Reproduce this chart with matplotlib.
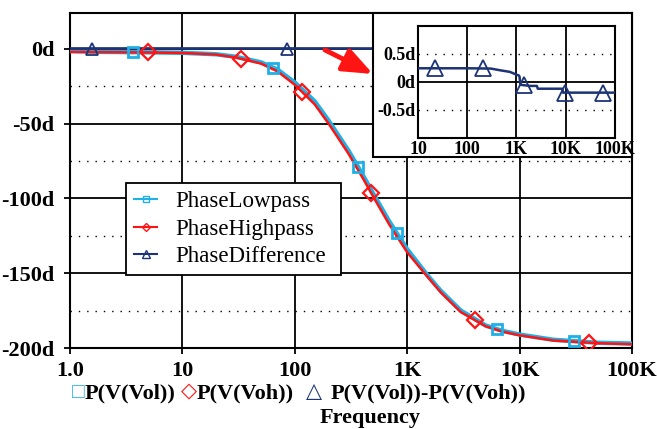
import numpy as np
import matplotlib.pyplot as plt
from matplotlib.patches import Rectangle, FancyArrowPatch
from matplotlib.lines import Line2D
from matplotlib.ticker import FixedLocator, NullLocator

plt.rcParams['font.family'] = ['Liberation Serif', 'DejaVu Sans']

# phase of both filter outputs (degrees)
freq = [1, 2, 5, 10, 20, 30, 50, 70, 100, 150, 200, 300, 400, 500, 700,
        1000, 1500, 2000, 3000, 5000, 7000, 10000, 20000, 50000, 100000]
phase_low = [-1.5, -2.0, -2.3, -2.6, -3.6, -5.3, -9.0, -13.8, -22.5, -35, -48, -68, -84, -97, -116,
             -134, -151, -162, -175, -185, -188.5, -191, -194.5, -196.5, -197]
phase_high = [-2.0, -2.2, -2.4, -2.7, -3.8, -5.8, -9.8, -15, -24, -37, -50, -70, -86, -99, -118,
              -136, -152, -163, -176, -185.5, -189, -191.5, -195, -196.8, -197.5]

# difference P(V(Vol))-P(V(Voh))
diff_freq = [1, 10, 100, 300, 460, 740, 1000, 1100, 1150, 1200, 1900, 2600, 2700, 8500, 8800, 100000]
phase_diff = [0.245, 0.245, 0.245, 0.24, 0.21, 0.18, 0.13, 0.12, 0.10, -0.05, -0.07, -0.07,
              -0.12, -0.12, -0.19, -0.19]

# marker positions
low_marks = [3.6, 64, 365, 811, 6300, 30500]
high_marks = [4.9, 33, 116, 476, 4010, 41400]
diff_marks = [1.57, 85, 3500, 40000]
inset_marks = [22, 209, 1400, 9500, 56000]

x_ticks = [1, 10, 100, 1000, 10000, 100000]
x_labels = ['1.0', '10', '100', '1K', '10K', '100K']
y_ticks = [0, -50, -100, -150, -200]
y_labels = ['0d', '-50d', '-100d', '-150d', '-200d']

cyan = '#1fb0e6'
red = '#ff1414'
navy = '#1c3476'


def at(f, xs, ys):
    return np.interp(np.log10(f), np.log10(xs), ys)


W, H = 657, 429
fig = plt.figure(figsize=(W / 100, H / 100), dpi=100)
ax = fig.add_axes([70 / W, 1 - 348 / H, 562 / W, 335 / H])

ax.semilogx(freq, phase_low, color=cyan, lw=3.2, zorder=3)
ax.semilogx(freq, phase_high, color=red, lw=1.8, zorder=4)
ax.semilogx(diff_freq, phase_diff, color=navy, lw=2, zorder=4)
ax.plot(low_marks, at(low_marks, freq, phase_low), 's', ms=7.5, mfc='none', mec=cyan, mew=2, zorder=5)
ax.plot(high_marks, at(high_marks, freq, phase_high), 'D', ms=8, mfc='none', mec=red, mew=1.6, zorder=5)
ax.plot(diff_marks, at(diff_marks, diff_freq, phase_diff), '^', ms=8, mfc='none', mec=navy, mew=1.3, zorder=5)

ax.set_xlim(1, 100000)
ax.set_ylim(-200, 24)
ax.set_xticks(x_ticks)
ax.set_xticklabels(x_labels)
ax.xaxis.set_minor_locator(NullLocator())
ax.set_yticks(y_ticks)
ax.set_yticklabels(y_labels)
ax.yaxis.set_minor_locator(FixedLocator([-25, -75, -125, -175]))
ax.grid(which='major', color='k', lw=1.3)
ax.grid(which='minor', axis='y', color='k', lw=1, ls=(0, (1, 5)))
ax.tick_params(which='major', length=4, width=1.3, labelsize=16, pad=7)
ax.tick_params(axis='x', pad=5)
ax.tick_params(which='minor', length=0)
for lab in ax.get_xticklabels() + ax.get_yticklabels():
    lab.set_fontweight('bold')
for s in ax.spines.values():
    s.set_linewidth(1.5)

handles = [
    Line2D([], [], color=cyan, lw=1.5, marker='s', ms=5, mfc='none', mec=cyan),
    Line2D([], [], color=red, lw=1.5, marker='D', ms=4, mfc='none', mec=red),
    Line2D([], [], color=navy, lw=1.5, marker='^', ms=6, mfc='none', mec=navy),
]
leg = ax.legend(handles, ['PhaseLowpass', 'PhaseHighpass', 'PhaseDifference'],
                loc='upper left', bbox_to_anchor=(126 / W, 1 - 272 / H, 215 / W, 89 / H),
                bbox_transform=fig.transFigure, mode='expand', fontsize=16.5, frameon=True,
                fancybox=False, edgecolor='k', framealpha=1, handlelength=1.0,
                handletextpad=0.8, labelspacing=0.28, borderpad=0.36, borderaxespad=0)
leg.get_frame().set_linewidth(1.3)
leg.set_zorder(10)

# inset box
fig.add_artist(Rectangle((373 / W, 1 - 157 / H), 259 / W, 144 / H, transform=fig.transFigure,
                         facecolor='white', edgecolor='k', lw=1.5, zorder=20))
iax = fig.add_axes([418 / W, 1 - 138 / H, 197 / W, 112 / H], zorder=30)
iax.semilogx(diff_freq, phase_diff, color=navy, lw=1.8, zorder=4)
iax.plot(inset_marks, at(inset_marks, diff_freq, phase_diff), '^', ms=12, mfc='none',
         mec=navy, mew=1.3, zorder=5)
iax.set_xlim(10, 100000)
iax.set_ylim(-1, 1)
iax.set_xticks(x_ticks[1:])
iax.set_xticklabels(x_labels[1:])
iax.xaxis.set_minor_locator(NullLocator())
iax.set_yticks([0.5, 0, -0.5])
iax.set_yticklabels(['0.5d', '0d', '-0.5d'])
iax.grid(which='major', axis='x', color='k', lw=1.3)
iax.axhline(0, color='k', lw=1.3, zorder=2)
for v in [0.5, -0.5]:
    iax.axhline(v, color='k', lw=1, ls=(0, (1, 5)), zorder=2)
iax.tick_params(length=0, labelsize=13, pad=2)
for lab in iax.get_xticklabels() + iax.get_yticklabels():
    lab.set_fontweight('bold')
for s in iax.spines.values():
    s.set_linewidth(1.5)

# red arrow
fig.add_artist(FancyArrowPatch((325 / W, 1 - 50 / H), (373 / W, 1 - 74 / H),
                               transform=fig.transFigure, arrowstyle='-|>,head_length=1.0,head_width=0.4',
                               mutation_scale=18, color=red, lw=3.5, shrinkA=0, shrinkB=0, zorder=25))

# bottom trace legend
y_txt = 1 - 393 / H
symbols = [(78, '□', cyan, 15), (189, '◇', red, 15), (314, '△', navy, 15)]
for px, txt, c, fs in symbols:
    fig.text(px / W, y_txt, txt, color=c, fontsize=fs, ha='center', va='center')
names = [(85, 'P(V(Vol))'), (197, 'P(V(Voh))'), (331, 'P(V(Vol))-P(V(Voh))')]
for px, txt in names:
    fig.text(px / W, y_txt, txt, fontsize=16, fontweight='bold', ha='left', va='center')
fig.text(370 / W, 1 - 418 / H, 'Frequency', fontsize=16, fontweight='bold', ha='center', va='center')

fig.savefig('out.png', dpi=100)
